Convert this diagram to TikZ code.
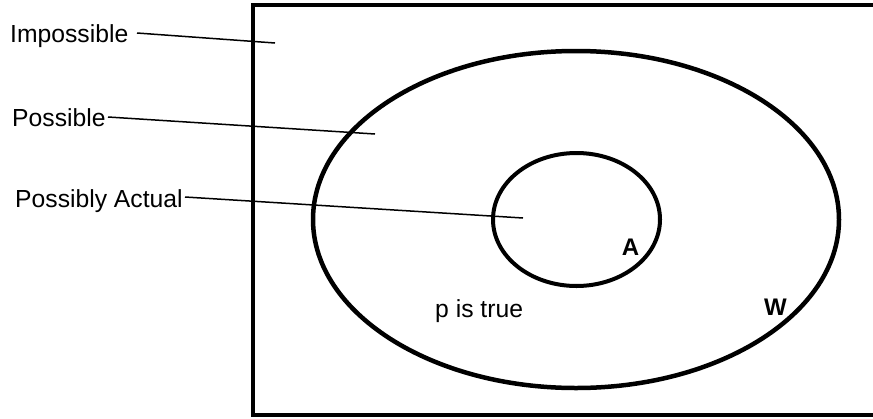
\documentclass[tikz,border=0pt]{standalone}
\usepackage{fontspec}
\setmainfont{Liberation Sans}
\begin{document}
\begin{tikzpicture}[x=1pt,y=-1pt,
  lbl/.style={inner sep=0pt,anchor=base west,font=\fontsize{24.7}{28}\selectfont},
  blbl/.style={inner sep=0pt,anchor=base,font=\fontsize{24}{28}\selectfont\bfseries},
  thick border/.style={line width=4pt},
  leader/.style={line width=1.5pt}]
\useasboundingbox (0,0) rectangle (873,418);
\clip (0,0) rectangle (873,418);
\fill[white] (0,0) rectangle (873,418);
% universe rectangle (right side beyond the picture)
\draw[thick border] (253,5.3) rectangle (900,415);
% possible worlds ellipse
\draw[line width=4.5pt] (576,219.5) ellipse [x radius=263, y radius=168.5];
% possibly actual circle
\draw[thick border] (576.5,219.5) ellipse [x radius=83.5, y radius=66.5];
% labels
\node[lbl] (imp) at (10,42) {Impossible};
\node[lbl] (pos) at (12,126) {Possible};
\node[lbl] (pa) at (15,207) {Possibly Actual};
\node[lbl] (pt) at (435,317) {p is true};
\node[blbl] (A) at (630.5,255) {A};
\node[blbl] (W) at (775.5,315) {W};
% leader line endpoints
\coordinate (imps) at (137,33);
\coordinate (impe) at (275,43);
\coordinate (poss) at (108,117);
\coordinate (pose) at (375,134);
\coordinate (pas) at (185,197);
\coordinate (pae) at (523,218);
\draw[leader] (imps) -- (impe);
\draw[leader] (poss) -- (pose);
\draw[leader] (pas) -- (pae);
\end{tikzpicture}
\end{document}
